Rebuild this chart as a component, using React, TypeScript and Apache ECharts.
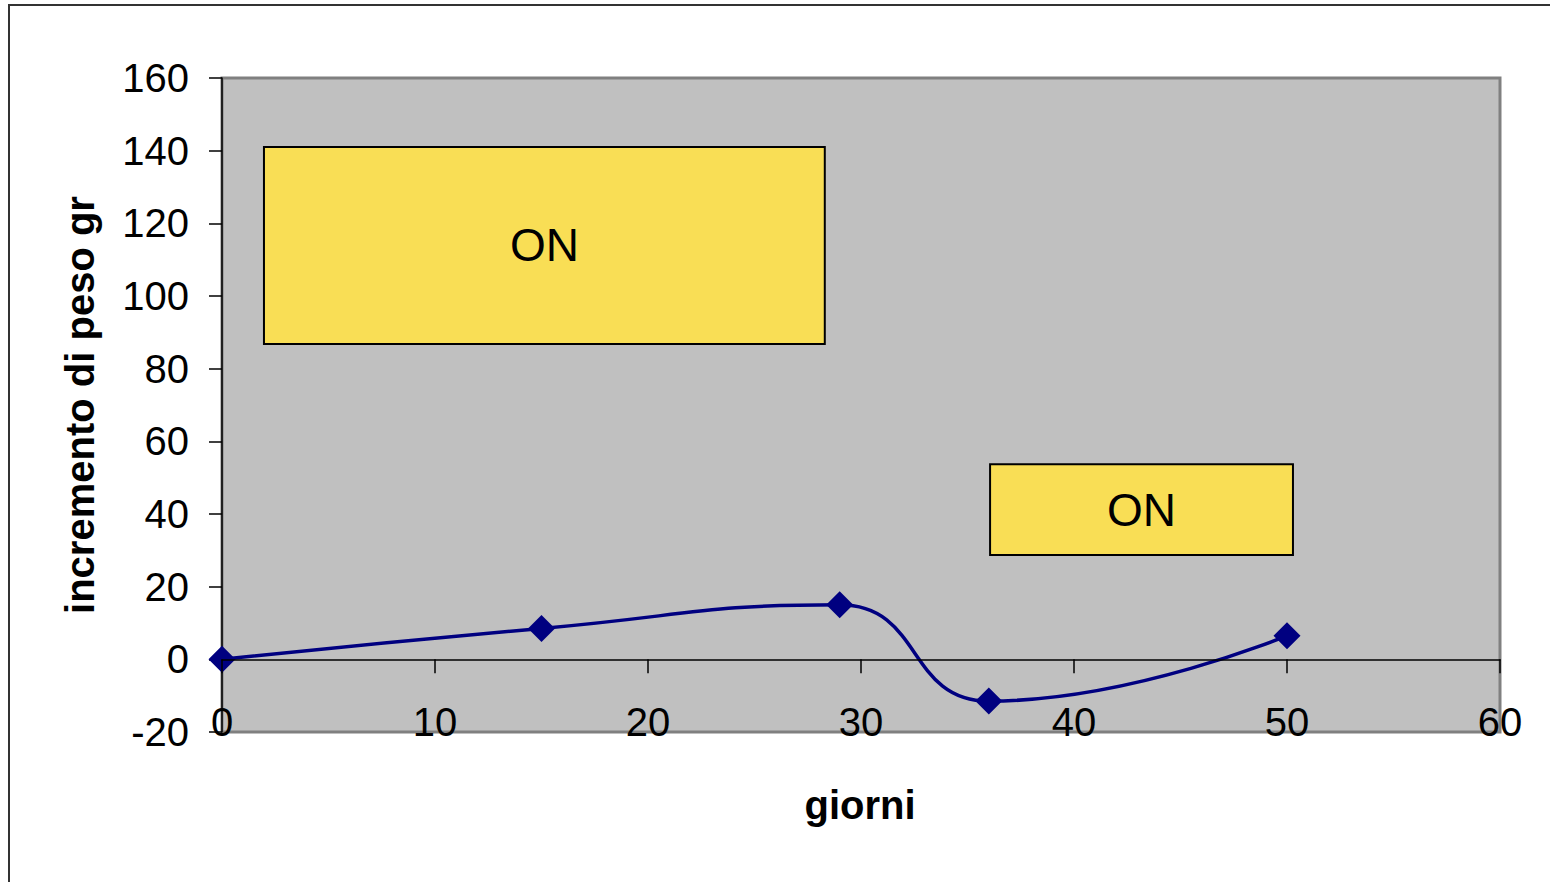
import React, { useEffect, useRef } from "react";
import * as echarts from "echarts";

// giorni (x) vs incremento di peso in grammi (y)
const days = [0, 15, 29, 36, 50];
const weightGain = [0, 8.5, 15, -11.5, 6.5];

const xTicks = { min: 0, max: 60, interval: 10 };
const yTicks = { min: -20, max: 160, interval: 20 };

const boxLabel = "ON";
const xTitle = "giorni";
const yTitle = "incremento di peso gr";

const FONT = "'Liberation Sans', Arial, Helvetica, sans-serif";

export default function App() {
  const ref = useRef<HTMLDivElement>(null);

  useEffect(() => {
    if (!ref.current) return;
    const chart = echarts.init(ref.current, null, { renderer: "svg" });

    const points = days.map((d, i) => [d, weightGain[i]]);

    chart.setOption({
      animation: false,
      backgroundColor: "#ffffff",
      textStyle: { fontFamily: FONT },
      grid: {
        left: 222,
        right: 50,
        top: 78,
        bottom: 150,
        show: true,
        backgroundColor: "#c0c0c0",
        borderColor: "#808080",
        borderWidth: 3,
      },
      xAxis: {
        type: "value",
        min: xTicks.min,
        max: xTicks.max,
        interval: xTicks.interval,
        axisLine: { onZero: true, lineStyle: { color: "#000", width: 1.5 } },
        axisTick: { show: true, inside: false, length: 14, lineStyle: { color: "#000", width: 1.5 } },
        axisLabel: { color: "#000", fontSize: 40, fontFamily: FONT, margin: -30 },
        splitLine: { show: false },
        z: 10,
      },
      yAxis: {
        type: "value",
        min: yTicks.min,
        max: yTicks.max,
        interval: yTicks.interval,
        axisLine: { show: true, onZero: false, lineStyle: { color: "#000", width: 1.5 } },
        axisTick: { show: true, inside: false, length: 13, lineStyle: { color: "#000", width: 1.5 } },
        axisLabel: { color: "#000", fontSize: 40, fontFamily: FONT, margin: 33, padding: [0, 0, 10, 0] },
        splitLine: { show: false },
      },
      graphic: [
        {
          type: "rect",
          silent: true,
          shape: { x: 9, y: 5, width: 1700, height: 1000 },
          style: { fill: "none", stroke: "#333", lineWidth: 2 },
          z: 100,
        },
        {
          type: "text",
          x: 80,
          y: 405,
          rotation: Math.PI / 2,
          style: {
            text: yTitle,
            font: `bold 40px ${FONT}`,
            fill: "#000",
            align: "center",
            verticalAlign: "middle",
          },
        },
        {
          type: "text",
          x: 860,
          y: 805,
          style: {
            text: xTitle,
            font: `bold 40px ${FONT}`,
            fill: "#000",
            align: "center",
            verticalAlign: "middle",
          },
        },
      ],
      series: [
        {
          type: "line",
          data: points,
          smooth: 0.5,
          symbol: "diamond",
          symbolSize: 27,
          itemStyle: { color: "#000080" },
          lineStyle: { color: "#000080", width: 3.5 },
          z: 5,
          markArea: {
            silent: true,
            itemStyle: { color: "#f9de55", borderColor: "#000", borderWidth: 2 },
            label: {
              show: true,
              position: "inside",
              color: "#000",
              fontSize: 46,
              fontFamily: FONT,
            },
            data: [
              [
                { name: boxLabel, coord: [1.97, 141] },
                { coord: [28.3, 86.8] },
              ],
              [
                { name: boxLabel, coord: [36.06, 53.7] },
                { coord: [50.28, 28.7] },
              ],
            ],
          },
        },
      ],
    });

    return () => chart.dispose();
  }, []);

  return (
    <div
      ref={ref}
      style={{ position: "absolute", left: 0, top: 0, width: 1550, height: 882 }}
    />
  );
}
